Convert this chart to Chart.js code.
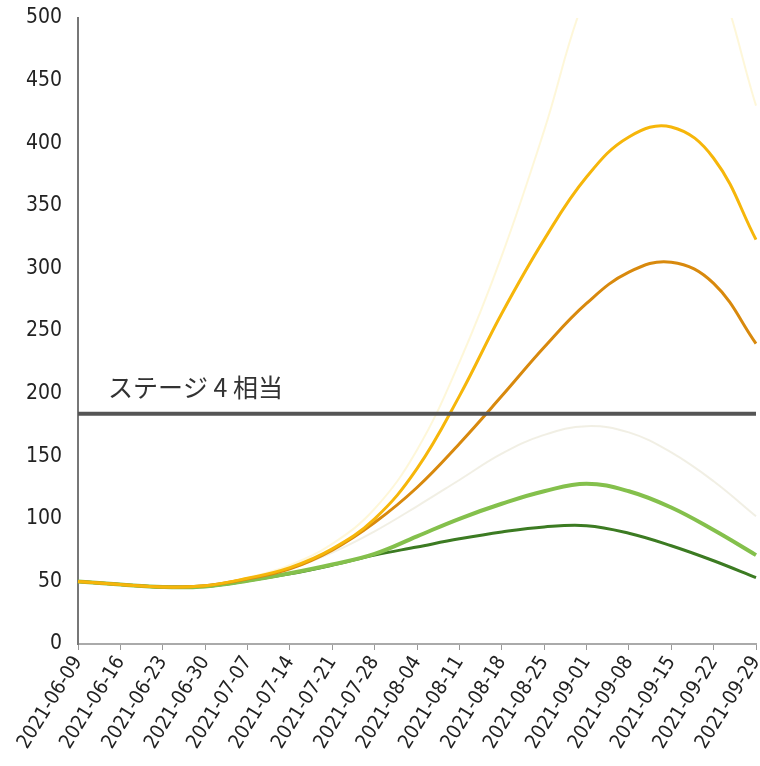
<!DOCTYPE html>
<html>
<head>
<meta charset="utf-8">
<script src="https://cdn.jsdelivr.net/npm/chart.js@4"></script>
<style>
  html, body { margin: 0; padding: 0; background: #fff; overflow: hidden; }
  #wrap { width: 760px; height: 766px; }
</style>
</head>
<body>
<div id="wrap"><canvas id="myChart1"></canvas></div>
<script>
const labels = ['2021-06-09', '2021-06-16', '2021-06-23', '2021-06-30', '2021-07-07', '2021-07-14',
  '2021-07-21', '2021-07-28', '2021-08-04', '2021-08-11', '2021-08-18', '2021-08-25',
  '2021-09-01', '2021-09-08', '2021-09-15', '2021-09-22', '2021-09-29'];

const yellowValues = [50, 47.5, 45.5, 46.5, 52.5, 61, 76, 100, 140, 198, 264, 323, 373, 405, 413, 388, 323];
const orangeValues = [50, 47.5, 45.5, 46.5, 52, 60, 75, 97, 125, 160, 198, 237, 272, 297, 305, 288, 240];
const lightGreenValues = [50, 47.5, 45.5, 46, 50.5, 56.5, 63.5, 72, 86, 100, 112, 122, 128, 122, 109, 91, 71];
const darkGreenValues = [50, 47.5, 45.5, 46, 50.5, 56, 63, 71, 77.5, 84, 89.5, 93.5, 94.5, 88.5, 78.5, 66.5, 53];
const faintHighValues = [50, 47.5, 45.5, 46.5, 53, 63, 80, 108, 155, 225, 310, 410, 520, 580, 590, 540, 430];
const faintMidValues = [50, 47.5, 45.5, 46.5, 52, 60, 73, 90, 110, 131, 152, 167, 174, 169, 153, 130, 102];

const stageLevel = 184;
const yTicks = [0, 50, 100, 150, 200, 250, 300, 350, 400, 450, 500];

const font = "'Liberation Sans Narrow', 'DejaVu Sans Condensed', 'Liberation Sans', sans-serif";

// text above the stage line
const stageTextPlugin = {
  id: 'stageText',
  afterDatasetsDraw(chart) {
    const ctx = chart.ctx;
    const y = chart.scales.y.getPixelForValue(stageLevel);
    ctx.save();
    ctx.font = "25px 'Noto Sans CJK JP'";
    ctx.fillStyle = '#333';
    ctx.textBaseline = 'alphabetic';
    ctx.fillText('ステージ 4 相当', chart.chartArea.left + 30, y - 17);
    ctx.restore();
  }
};

function line(data, color, width, order) {
  return {
    data: data,
    borderColor: color,
    borderWidth: width,
    pointRadius: 0,
    fill: false,
    tension: 0.4,
    order: order,
  };
}

function createChart() {
  const ctx = document.getElementById('myChart1').getContext('2d');
  new Chart(ctx, {
    type: 'line',
    data: {
      labels: labels,
      datasets: [
        line(faintHighValues, 'rgba(252, 238, 170, 0.45)', 2, 7),
        line(faintMidValues, 'rgba(225, 220, 195, 0.45)', 2, 6),
        line(darkGreenValues, '#3c7b22', 3, 5),
        line(lightGreenValues, '#84c04c', 4, 4),
        line(orangeValues, '#d8890d', 3, 3),
        line(yellowValues, '#f6b60a', 3, 2),
        line(labels.map(() => stageLevel), '#555555', 4, 1),
      ],
    },
    options: {
      responsive: true,
      maintainAspectRatio: false,
      animation: false,
      layout: { padding: { top: 18, right: 4, left: 0, bottom: 0 } },
      plugins: {
        legend: { display: false },
        tooltip: { enabled: false },
      },
      scales: {
        x: {
          grid: { drawOnChartArea: false, drawTicks: true, tickLength: 6, color: '#999' },
          border: { color: '#aaa', width: 2 },
          ticks: {
            color: '#222',
            font: { family: font, size: 20, style: 'condensed' },
            minRotation: 58,
            maxRotation: 58,
            autoSkip: false,
            padding: 2,
          },
          afterFit: (scale) => {
            scale.height = 122;
            scale.paddingLeft = 0;
            scale.paddingRight = 0;
          },
        },
        y: {
          min: 0,
          max: 500,
          afterBuildTicks: (scale) => { scale.ticks = yTicks.map(v => ({ value: v })); },
          grid: { display: false, drawTicks: false },
          border: { color: '#777', width: 2 },
          ticks: {
            color: '#222',
            font: { family: font, size: 21, style: 'condensed' },
            padding: 16,
          },
          afterFit: (scale) => {
            scale.width = 78;
            scale.paddingTop = 0;
            scale.paddingBottom = 0;
          },
        },
      },
    },
    plugins: [stageTextPlugin],
  });
}

document.addEventListener('DOMContentLoaded', createChart);
</script>
</body>
</html>
